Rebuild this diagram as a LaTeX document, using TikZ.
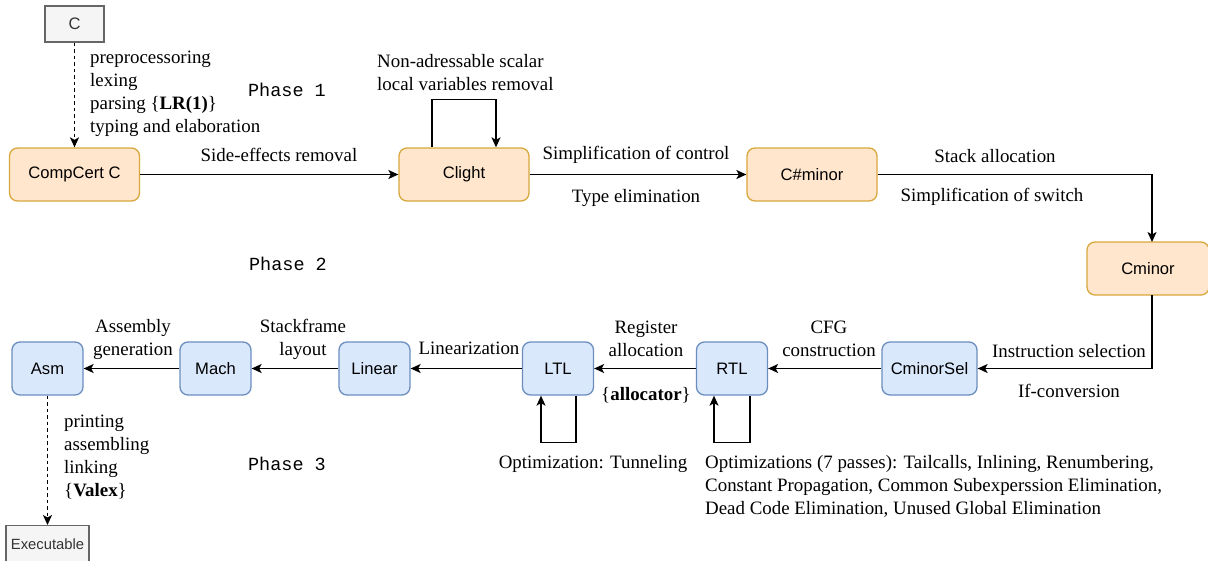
\documentclass[tikz,border=0pt]{standalone}
\usepackage{fontspec}
\setmainfont{Liberation Serif}
\setsansfont{Liberation Sans}
\setmonofont{Liberation Mono}
\usetikzlibrary{arrows.meta}
\definecolor{ofill}{HTML}{FFE6CC}
\definecolor{ostroke}{HTML}{D9A83C}
\definecolor{bfill}{HTML}{DAE8FC}
\definecolor{bstroke}{HTML}{6C8EBF}
\definecolor{gfill}{HTML}{F5F5F5}
\definecolor{gstroke}{HTML}{666666}
\tikzset{
  obox/.style={draw=ostroke, fill=ofill, rounded corners=8pt, line width=1.3pt, minimum width=130pt, minimum height=53pt, inner sep=0pt, font=\sffamily\fontsize{16.6}{19}\selectfont},
  bbox/.style={draw=bstroke, fill=bfill, rounded corners=8pt, line width=1.3pt, minimum width=71pt, minimum height=53pt, inner sep=0pt, font=\sffamily\fontsize{16.6}{19}\selectfont},
  gbox/.style={draw=gstroke, fill=gfill, line width=1.3pt, inner sep=0pt, text=black!80, font=\sffamily\fontsize{14.8}{17}\selectfont},
  lbl/.style={inner sep=0pt, font=\fontsize{18.9}{23}\selectfont},
  phase/.style={inner sep=0pt, font=\ttfamily\fontsize{18.5}{22}\selectfont},
  arr/.style={line width=1.4pt, -{Stealth[length=10pt,width=9pt,inset=2.5pt]}},
  darr/.style={arr, dash pattern=on 3.5pt off 3pt}
}
\begin{document}
\begin{tikzpicture}[x=1pt,y=-1pt]
\useasboundingbox (0,0) rectangle (1208,560);
\fill[white] (0,0) rectangle (1208,560);
% nodes
\node[gbox, minimum width=59pt, minimum height=36pt, font=\sffamily\fontsize{16.6}{19}\selectfont] (c) at (74.5,24) {\raisebox{-1pt}{C}};
\node[obox] (compcert) at (74.5,174.5) {\raisebox{-2.5pt}{CompCert C}};
\node[obox] (clight) at (464,174.5) {\raisebox{-2.5pt}{Clight}};
\node[obox] (csharp) at (812,174.5) {\raisebox{-2.5pt}{C\#minor}};
\node[obox, minimum width=122pt] (cminor) at (1148,268.5) {\raisebox{-2.5pt}{Cminor}};
\node[bbox, minimum width=95pt] (cminorsel) at (929.5,368.5) {\raisebox{-2.5pt}{CminorSel}};
\node[bbox] (rtl) at (732,368.5) {\raisebox{-2.5pt}{RTL}};
\node[bbox] (ltl) at (558,368.5) {\raisebox{-2.5pt}{LTL}};
\node[bbox] (linear) at (374.5,368.5) {\raisebox{-2.5pt}{Linear}};
\node[bbox] (mach) at (215.5,368.5) {\raisebox{-2.5pt}{Mach}};
\node[bbox] (asm) at (47.5,368.5) {\raisebox{-2.5pt}{Asm}};
\node[gbox, minimum width=83pt, minimum height=40pt, anchor=north] (exec) at (47.5,525) {\raisebox{4pt}{Executable}};
% connectors
\draw[darr] (c.south) -- (c.south |- compcert.north);
\draw[arr] (compcert) -- (clight);
\draw[arr] (clight) -- (csharp);
\draw[arr] (csharp.east) -| (1152,242);
\draw[arr] (1152,295) |- (cminorsel.east);
\draw[arr] (cminorsel) -- (rtl);
\draw[arr] (rtl) -- (ltl);
\draw[arr] (ltl) -- (linear);
\draw[arr] (linear) -- (mach);
\draw[arr] (mach) -- (asm);
\draw[darr] (asm.south) -- (exec.north);
\draw[arr] ([xshift=-32pt]clight.north) -- ++(0,-48) -| ([xshift=32pt]clight.north);
\draw[arr] ([xshift=18pt]ltl.south) -- ++(0,47) -| ([xshift=-17pt]ltl.south);
\draw[arr] ([xshift=18pt]rtl.south) -- ++(0,47) -| ([xshift=-18pt]rtl.south);
% labels
\node[lbl, align=left, anchor=north west] (l1) at (90,51) {preprocessoring\\lexing\\parsing \{\textbf{LR(1)}\}\\typing and elaboration};
\node[phase] (p1) at (287,90) {Phase 1};
\node[phase] (p2) at (288,264) {Phase 2};
\node[phase] (p3) at (287,464) {Phase 3};
\node[lbl] (l2) at (279,155) {Side-effects removal};
\node[lbl, align=left, anchor=north west] (l3) at (377,54) {Non-adressable scalar\\local variables removal};
\node[lbl] (l4) at (636,155) {Simplification of control};
\node[lbl] (l5) at (636,198) {Type elimination};
\node[lbl] (l6) at (995,156) {Stack allocation};
\node[lbl] (l7) at (992,197) {Simplification of switch};
\node[lbl] (l8) at (1069,351) {Instruction selection};
\node[lbl] (l9) at (1069,391) {If-conversion};
\node[lbl, align=center] (l10) at (829,339) {CFG\\construction};
\node[lbl, align=center] (l11) at (646,338.5) {Register\\allocation};
\node[lbl] (l12) at (646,395) {\{\textbf{allocator}\}};
\node[lbl] (l13) at (469,348) {Linearization};
\node[lbl, align=center] (l14) at (303,339) {Stackframe\\layout};
\node[lbl, align=center] (l15) at (133,339.5) {Assembly\\generation};
\node[lbl, align=left, anchor=north west] (l16) at (64,415) {printing\\assembling\\linking\\\{\textbf{Valex}\}};
\node[lbl] (l17) at (593,464) {Optimization: Tunneling};
\node[lbl, align=left, anchor=north west] (l18) at (705,455) {Optimizations (7 passes): Tailcalls, Inlining, Renumbering,\\Constant Propagation, Common Subexperssion Elimination,\\Dead Code Elimination, Unused Global Elimination};
\end{tikzpicture}
\end{document}
